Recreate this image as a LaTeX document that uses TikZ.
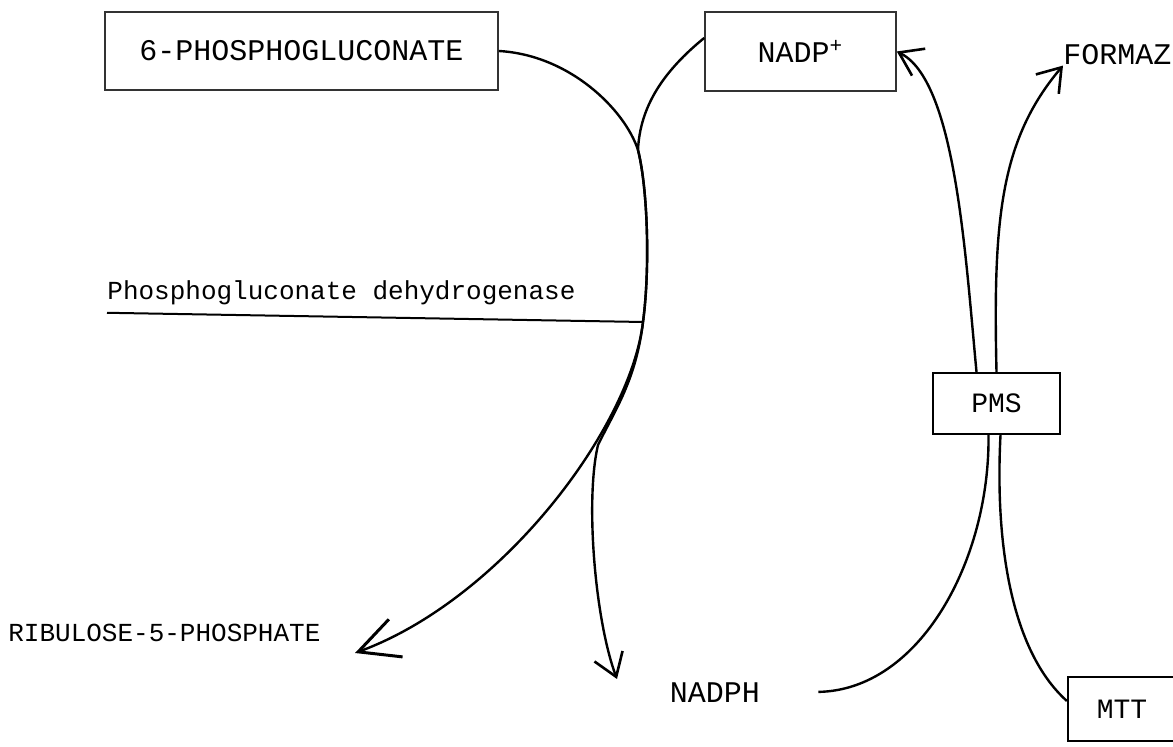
\documentclass[tikz,border=0pt]{standalone}
\usepackage{fontspec}
\setmonofont{Liberation Mono}
\usepackage{tikz}
\usetikzlibrary{arrows.meta}

\begin{document}
\begin{tikzpicture}[
    x=0.5pt, y=-0.5pt,
    bigBox/.style={rectangle, draw=black!80, line width=0.8pt, font=\ttfamily\fontsize{15}{17}\selectfont, inner sep=0pt},
    smallBox/.style={rectangle, draw=black, line width=1.1pt, font=\ttfamily\fontsize{14}{16}\selectfont, inner sep=0pt},
    bigText/.style={font=\ttfamily\fontsize{15}{17}\selectfont, inner sep=0pt},
    plainText/.style={font=\ttfamily\fontsize{13}{15}\selectfont, inner sep=0pt},
    flowLine/.style={line width=1.2pt, draw=black},
    barbTip/.style={-{Straight Barb[length=11pt, width=15pt, line width=1.3pt]}},
    bigBarb/.style={-{Straight Barb[length=20pt, width=20pt, line width=1.5pt]}}
]
    \useasboundingbox (0,0) rectangle (1173,747);
    \clip (0,0) rectangle (1173,747);

    % Substrate, cofactor and dyes
    \node[bigBox, minimum width=196.5pt, minimum height=39pt] (gluc) at (301.5,51) {6-PHOSPHOGLUCONATE};
    \node[bigBox, minimum width=95.5pt, minimum height=39.5pt] (nadp) at (800.5,51.5) {NADP\textsuperscript{+}};
    \node[bigText, anchor=west] (formaz) at (1063,55) {FORMAZ};
    \node[smallBox, minimum width=63.5pt, minimum height=30.5pt] (pms) at (996.5,403.5) {PMS};
    \node[smallBox, minimum width=54pt, minimum height=32pt] (mtt) at (1122,709) {MTT};

    % Products and enzyme
    \node[plainText, anchor=west] (ribulose) at (8,633) {RIBULOSE-5-PHOSPHATE};
    \node[bigText] (nadph) at (715,693) {NADPH};
    \node[plainText, anchor=base west] (enzyme) at (107,300) {Phosphogluconate dehydrogenase};

    \coordinate (merge) at (638,150);
    \coordinate (fork) at (643,322);
    \coordinate (split) at (598,445);
    \coordinate (ribTip) at (355,653);
    \coordinate (nadphTip) at (617,679);

    % Enzyme bar
    \draw[line width=1pt] ([yshift=-3.5pt]enzyme.south west) -- (fork);

    % 6-phosphogluconate to ribulose-5-phosphate
    \draw[flowLine, bigBarb] (gluc.east) .. controls (570,55) and (625,110) .. (merge)
        .. controls (648,190) and (650,270) .. (fork)
        .. controls (630,430) and (500,600) .. (ribTip);

    % NADP+ to NADPH
    \draw[flowLine, barbTip] (nadp.172) .. controls (665,70) and (640,105) .. (merge)
        .. controls (648,190) and (650,270) .. (fork)
        .. controls (636,380) and (615,410) .. (split)
        .. controls (585,500) and (595,620) .. (nadphTip);

    % NADPH to PMS to NADP+
    \draw[flowLine, shorten <=29pt] (nadph.east) .. controls (920,690) and (990,560) .. ([xshift=-4pt]pms.south);
    \draw[flowLine, barbTip] ([xshift=-10pt]pms.north) .. controls (965,250) and (955,80) .. (nadp.east);

    % MTT to PMS to formazan
    \draw[flowLine] ([yshift=4pt]mtt.west) .. controls (1010,650) and (995,540) .. ([xshift=2pt]pms.south);
    \draw[flowLine, barbTip] (pms.north) .. controls (993,220) and (1000,140) .. (formaz.south west);
\end{tikzpicture}
\end{document}
